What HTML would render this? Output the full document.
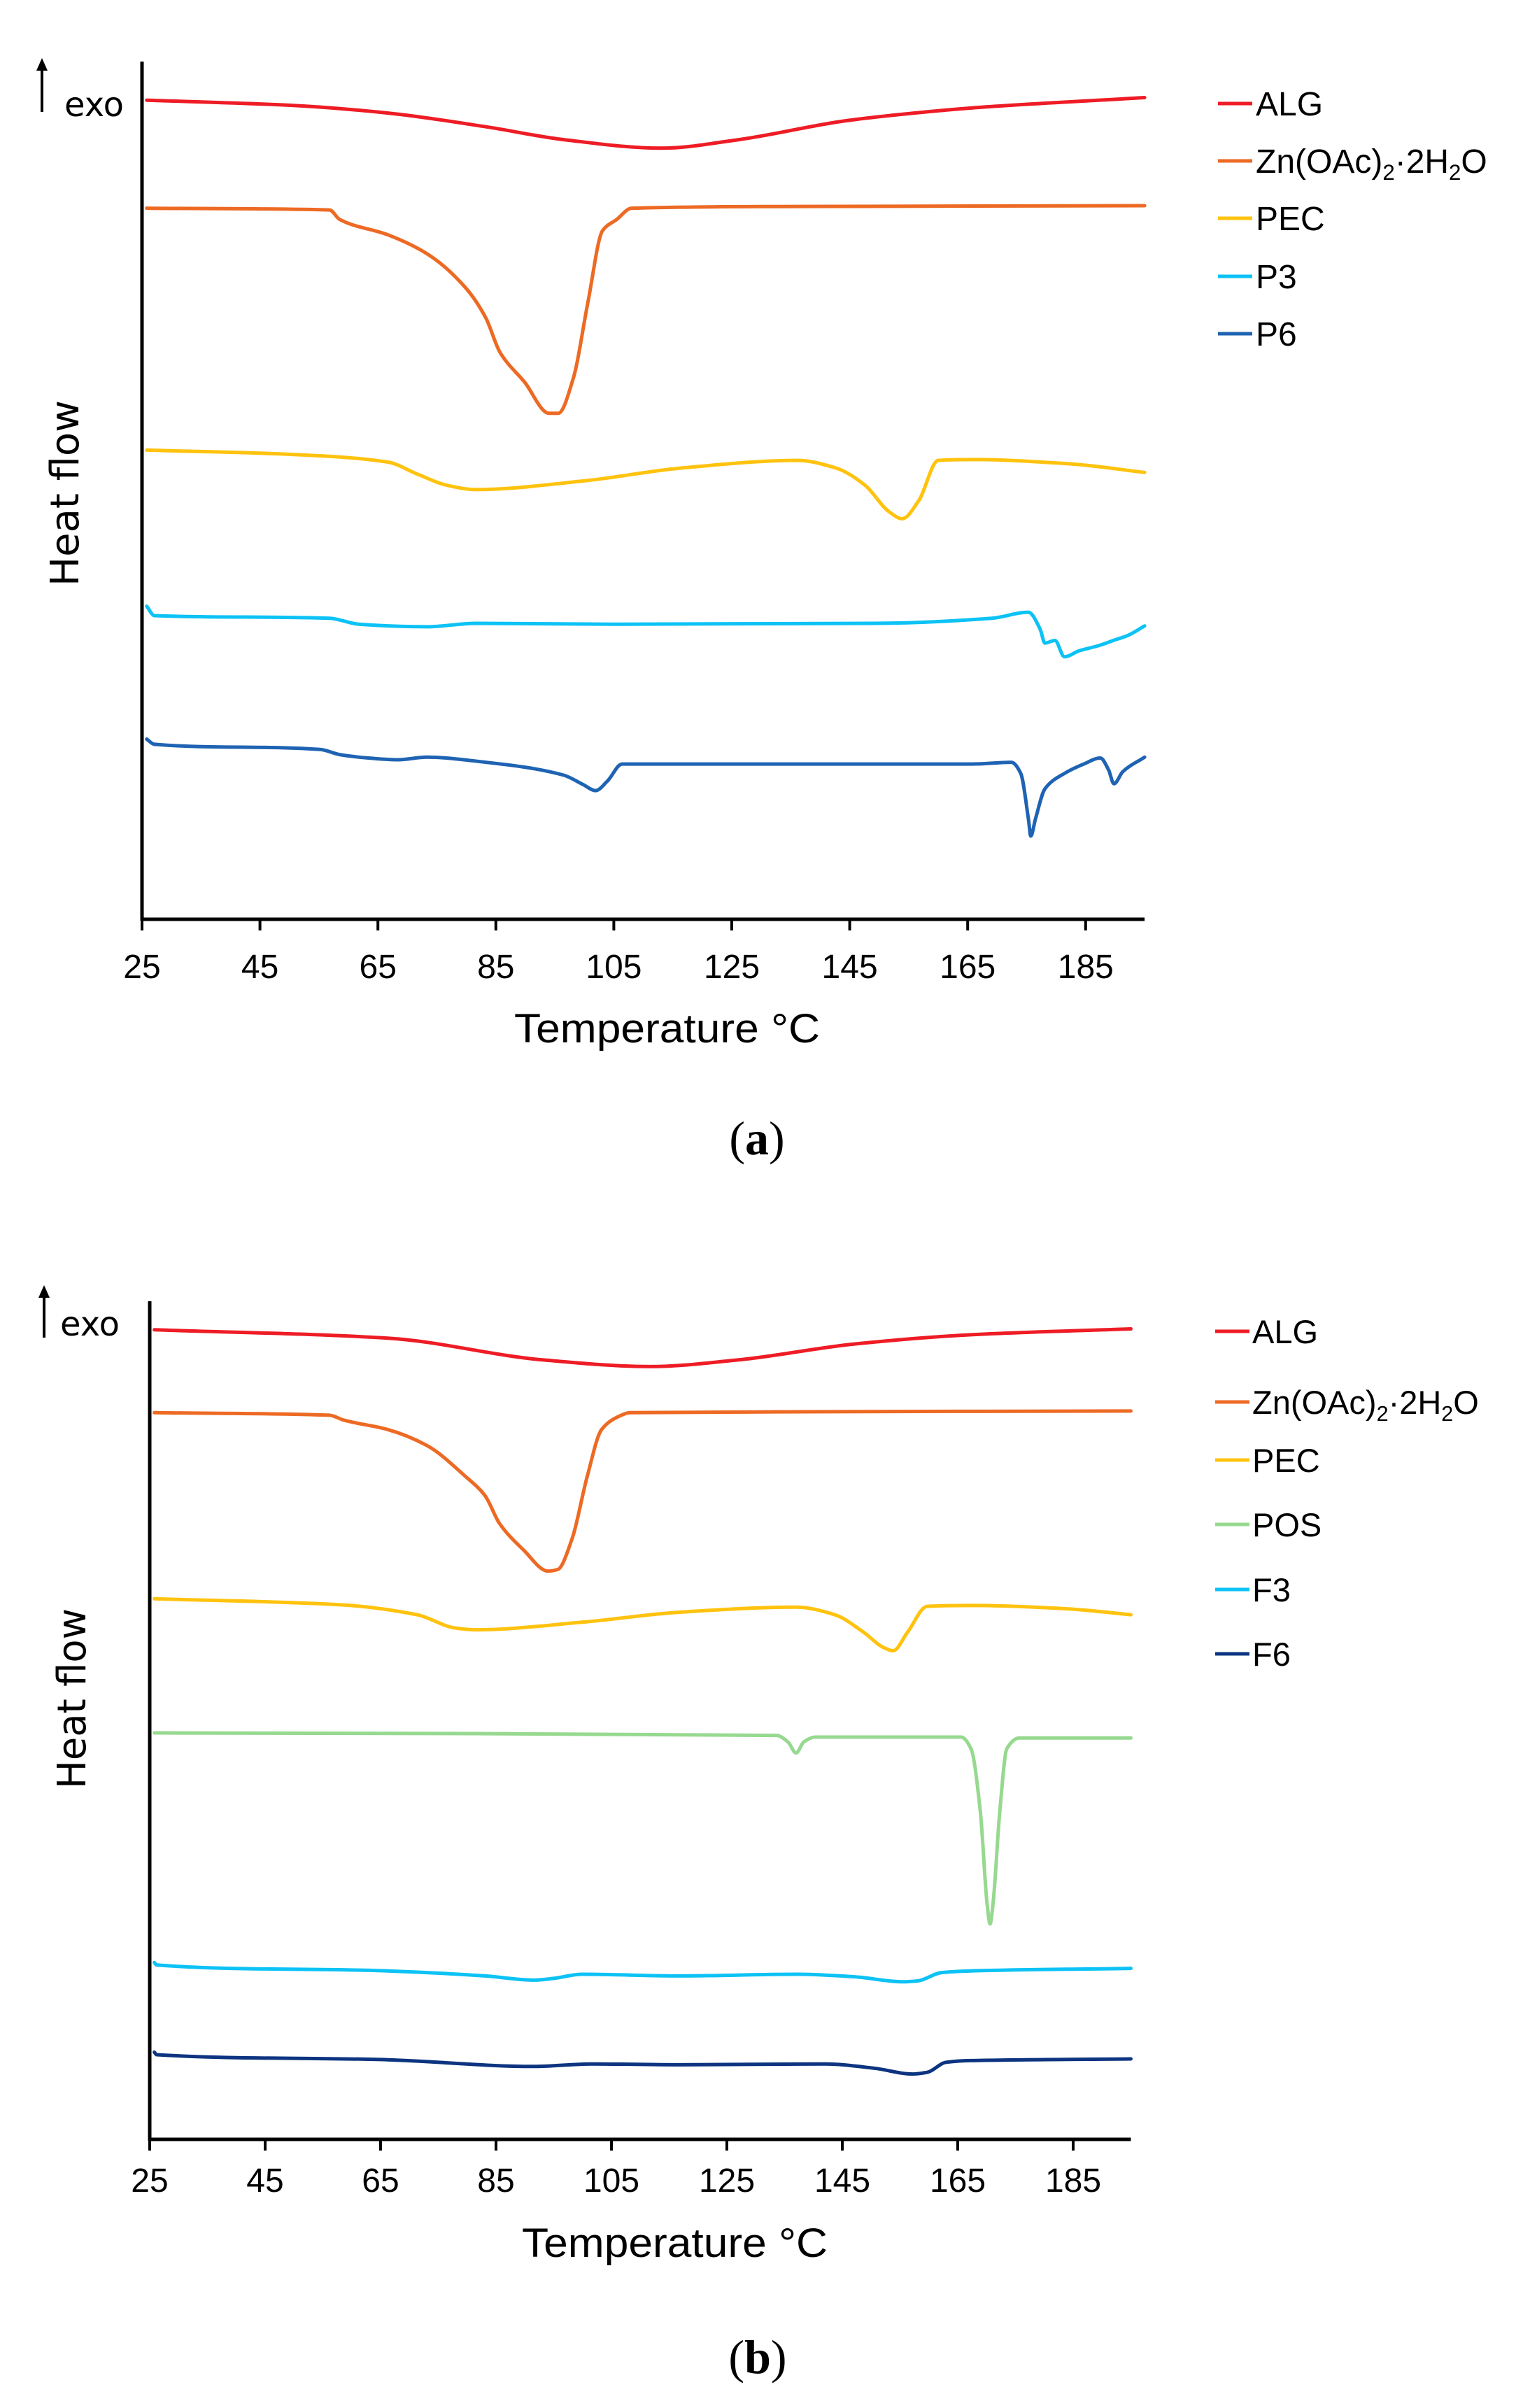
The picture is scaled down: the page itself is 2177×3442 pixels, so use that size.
<!DOCTYPE html>
<html><head><meta charset="utf-8">
<style>
html,body{margin:0;padding:0;background:#fff;}
svg{display:block;}
</style></head>
<body>
<svg id="fig" width="2177" height="3442" viewBox="0 0 2177 3442" xmlns="http://www.w3.org/2000/svg">
<rect width="2177" height="3442" fill="#fff"/>
</svg>
<script>
// ---------- Panel (a) data ----------
const tickLabels = [25,45,65,85,105,125,145,165,185];
const a_alg_T = [25.8,50.2,66.7,83.3,96.5,113,126.2,144.3,155.9,165.8,195];
const a_alg_v = [95.5,94.9,94.0,92.4,90.9,89.9,90.9,93.1,94.0,94.6,95.8];
const a_zn_T = [25.8,56.8,58.5,66.7,73.3,79.9,83.3,85.7,89.9,94.0,95.6,98.1,100.6,103.1,105.5,108.0,132.8,195];
const a_zn_v = [82.9,82.7,81.6,79.8,77.6,73.6,70.1,66.1,62.6,59.0,59.0,63.0,71.9,80.3,81.6,82.9,83.1,83.2];
const a_pec_T = [25.8,50.2,66.7,71.7,76.7,81.6,99.8,116.3,136.1,142.7,147.6,151.7,153.9,156.7,160.0,165.8,182.3,195];
const a_pec_v = [54.7,54.2,53.3,51.9,50.6,50.1,51.1,52.6,53.5,52.6,50.6,47.5,46.7,48.8,53.5,53.6,53.1,52.1];
const a_p3_T = [25.8,27.1,56.8,61.8,73.3,81.6,104.7,149.3,169.1,175.3,177.3,178.1,179.8,181.4,183.9,187.2,189.7,192.2,195];
const a_p3_v = [36.5,35.4,35.1,34.4,34.1,34.5,34.4,34.5,35.1,35.8,33.8,32.2,32.5,30.6,31.3,31.9,32.5,33.1,34.2];
const a_p6_T = [25.8,27.1,55.2,58.5,63.4,68.4,73.3,83.3,96.5,99.8,101.9,103.9,106.4,132.8,165.8,172.4,174.0,175.3,175.7,176.5,178.1,181.4,184.7,187.5,188.9,189.8,191.3,195];
const a_p6_v = [21.0,20.4,19.8,19.2,18.8,18.6,18.9,18.3,16.8,15.7,15.0,16.1,18.1,18.1,18.1,18.3,17.0,11.7,9.7,11.7,15.2,17.0,18.1,18.8,17.4,15.8,17.2,18.9];
// ---------- Panel (b) data ----------
const b_alg_T = [25.8,66.2,93.2,111.7,126.9,147.1,167.3,195];
const b_alg_v = [96.6,95.6,93.0,92.2,93.0,94.9,96.0,96.7];
const b_zn_T = [25.8,56.1,58.7,66.2,73.0,79.7,83.1,85.6,89.8,94.0,95.7,98.2,100.8,103.3,105.8,108.3,133.6,195];
const b_zn_v = [86.7,86.4,85.8,84.7,82.8,79.1,76.8,73.5,70.3,67.8,68.0,71.7,79.1,84.7,86.1,86.7,86.8,86.9];
const b_pec_T = [25.8,57.8,71.3,78.0,81.4,99.9,116.8,137.0,143.7,148.7,152.1,153.8,156.3,159.7,167.3,184.1,195];
const b_pec_v = [64.5,63.8,62.6,61.0,60.8,61.7,62.9,63.5,62.6,60.5,58.7,58.3,60.5,63.6,63.7,63.3,62.6];
const b_pos_T = [25.8,133.6,135.6,137.0,138.3,140.3,165.6,167.3,168.9,170.1,170.6,171.1,172.3,173.5,175.7,195];
const b_pos_v = [48.5,48.2,47.4,46.1,47.4,48.0,48.0,46.6,39.2,28.0,25.7,28.0,39.2,46.6,47.9,47.9];
const b_f3_T = [25.8,26.2,66.2,83.1,91.5,94.9,99.9,116.8,137.0,147.1,155.5,158.0,162.2,167.3,195];
const b_f3_v = [21.1,20.8,20.1,19.5,19.0,19.2,19.7,19.5,19.7,19.4,18.8,18.9,19.9,20.1,20.4];
const b_f6_T = [25.8,26.2,66.2,91.5,101.6,116.8,142.0,150.4,157.2,159.7,163.0,167.3,195];
const b_f6_v = [10.4,10.1,9.5,8.7,9.0,8.9,9.0,8.5,7.8,8.0,9.2,9.4,9.6];

const NS = "http://www.w3.org/2000/svg";
const svg = document.getElementById('fig');
function mk(tag, attrs, parent){
  const e = document.createElementNS(NS, tag);
  for (const k in attrs) e.setAttribute(k, attrs[k]);
  (parent||svg).appendChild(e);
  return e;
}
// monotone cubic (Fritsch-Carlson) in x
function smoothPath(pts){
  const n = pts.length;
  const dx=[], m=[];
  for (let i=0;i<n-1;i++){ dx[i]=pts[i+1][0]-pts[i][0]; m[i]=(pts[i+1][1]-pts[i][1])/dx[i]; }
  const t=[];
  t[0]=m[0]; t[n-1]=m[n-2];
  for (let i=1;i<n-1;i++){
    if (m[i-1]*m[i]<=0) t[i]=0;
    else { const w1=2*dx[i]+dx[i-1], w2=dx[i]+2*dx[i-1]; t[i]=(w1+w2)/(w1/m[i-1]+w2/m[i]); }
  }
  let d = "M" + pts[0][0].toFixed(1) + "," + pts[0][1].toFixed(1);
  for (let i=0;i<n-1;i++){
    const h=dx[i];
    const c1=[pts[i][0]+h/3, pts[i][1]+t[i]*h/3];
    const c2=[pts[i+1][0]-h/3, pts[i+1][1]-t[i+1]*h/3];
    d += "C"+c1[0].toFixed(1)+","+c1[1].toFixed(1)+" "+c2[0].toFixed(1)+","+c2[1].toFixed(1)+" "+pts[i+1][0].toFixed(1)+","+pts[i+1][1].toFixed(1);
  }
  return d;
}

function panel(cfg){
  const g = mk('g', {});
  
  
  const xS = t => cfg.x0 + (t-25)*cfg.pxPerC;
  const yS = v => cfg.yBot - v/100*(cfg.yBot-cfg.yTop);
  const xEnd = xS(195);
  const ya = mk('line',{x1:cfg.x0,y1:cfg.yTop,x2:cfg.x0,y2:cfg.yBot+2,stroke:'#000','stroke-width':5},g);
  
  
  const xa = mk('line',{x1:cfg.x0-2,y1:cfg.yBot,x2:xEnd,y2:cfg.yBot,stroke:'#000','stroke-width':5},g);
  
  
  tickLabels.forEach(t=>{
    const x = xS(t);
    const tk = mk('line',{x1:x,y1:cfg.yBot,x2:x,y2:cfg.yBot+16,stroke:'#000','stroke-width':4},g);
    
    
    const tl = mk('text',{x:x,y:cfg.tickY,'text-anchor':'middle','font-family':'Liberation Sans, sans-serif','font-size':cfg.tickFs,fill:'#000'},g);
    tl.textContent = t;
    
    
  });
  const ar = mk('line',{x1:cfg.arX,y1:cfg.arTop+14,x2:cfg.arX,y2:cfg.arBot,stroke:'#000','stroke-width':4},g);
  
  
  const ah = mk('polygon',{points:(cfg.arX-8)+','+(cfg.arTop+18)+' '+(cfg.arX+8)+','+(cfg.arTop+18)+' '+cfg.arX+','+cfg.arTop,fill:'#000'},g);
  
  
  const ex = mk('text',{x:cfg.exoX,y:cfg.exoY,'font-family':'DejaVu Sans, Liberation Sans, sans-serif','font-size':48,fill:'#000'},g);
  ex.textContent='exo';
  
  
  const yt = mk('text',{x:0,y:0,transform:'translate('+cfg.hfX+','+cfg.hfY+') rotate(-90)','text-anchor':'middle','font-family':'DejaVu Sans, Liberation Sans, sans-serif','font-size':56,textLength:cfg.hfLen,lengthAdjust:'spacingAndGlyphs',fill:'#000'},g);
  yt.textContent='Heat flow';
  
  
  const xt = mk('text',{x:cfg.ttX-218,y:cfg.ttY,'font-family':'Liberation Sans, sans-serif','font-size':58,textLength:437,lengthAdjust:'spacingAndGlyphs',fill:'#000'},g);
  xt.textContent='Temperature °C';
  
  
  const cap = mk('text',{x:cfg.capX,y:cfg.capY,'text-anchor':'middle','font-family':'Liberation Serif, serif','font-size':68,fill:'#000'},g);
  cap.innerHTML = '(<tspan font-weight="bold">'+cfg.cap+'</tspan>)';
  
  
  cfg.series.forEach((s,i)=>{
    const pts = s.T.map((t,j)=>[xS(t), yS(s.v[j])]);
    const p = mk('path',{d:smoothPath(pts),fill:'none',stroke:s.color,'stroke-width':5,'stroke-linejoin':'round','stroke-linecap':'round'},g);
    
    
    const ly = cfg.legY[i];
    const lg = mk('g',{},g);
    
    
    mk('line',{x1:cfg.legX1,y1:ly,x2:cfg.legX2,y2:ly,stroke:s.color,'stroke-width':5},lg);
    const lt = mk('text',{x:cfg.legTX,y:ly+17,'font-family':'Liberation Sans, sans-serif','font-size':cfg.legFs,fill:'#000'},lg);
    if (s.key==='zn') {
      lt.innerHTML = 'Zn(OAc)<tspan font-size="'+(cfg.legFs*0.65)+'" dy="10">2</tspan><tspan dy="-10">·2H</tspan><tspan font-size="'+(cfg.legFs*0.65)+'" dy="10">2</tspan><tspan dy="-10">O</tspan>';
    } else lt.textContent = s.label;
  });
}

panel({name:'panel-a-chart', cap:'a', x0:203, pxPerC:8.43, yTop:88, yBot:1314, tickY:1398, tickFs:48,
  arX:60, arTop:83, arBot:160, exoX:92, exoY:166, hfX:112, hfY:705, hfLen:266, ttX:953, ttY:1490, capX:1082, capY:1650,
  legX1:1741, legX2:1790, legTX:1795, legFs:48, legY:[148,230,312,395,477],
  series:[
    {key:'alg',label:'ALG',color:'#ee1c25',T:a_alg_T,v:a_alg_v},
    {key:'zn',label:'Zn(OAc)2·2H2O',color:'#ed6a24',T:a_zn_T,v:a_zn_v},
    {key:'pec',label:'PEC',color:'#ffc30f',T:a_pec_T,v:a_pec_v},
    {key:'p3',label:'P3',color:'#0dc2f5',T:a_p3_T,v:a_p3_v},
    {key:'p6',label:'P6',color:'#1f63b3',T:a_p6_T,v:a_p6_v}
  ]});

panel({name:'panel-b-chart', cap:'b', x0:214, pxPerC:8.25, yTop:1860, yBot:3058, tickY:3133, tickFs:48,
  arX:63, arTop:1837, arBot:1912, exoX:86, exoY:1909, hfX:122, hfY:2428, hfLen:258, ttX:964, ttY:3226, capX:1083, capY:3392,
  legX1:1737, legX2:1786, legTX:1790, legFs:47, legY:[1903,2004,2087,2179,2272,2364],
  series:[
    {key:'alg',label:'ALG',color:'#ee1c25',T:b_alg_T,v:b_alg_v},
    {key:'zn',label:'Zn(OAc)2·2H2O',color:'#ed6a24',T:b_zn_T,v:b_zn_v},
    {key:'pec',label:'PEC',color:'#ffc30f',T:b_pec_T,v:b_pec_v},
    {key:'pos',label:'POS',color:'#96d98f',T:b_pos_T,v:b_pos_v},
    {key:'f3',label:'F3',color:'#0dc2f5',T:b_f3_T,v:b_f3_v},
    {key:'f6',label:'F6',color:'#0d3480',T:b_f6_T,v:b_f6_v}
  ]});
</script>
</body></html>
